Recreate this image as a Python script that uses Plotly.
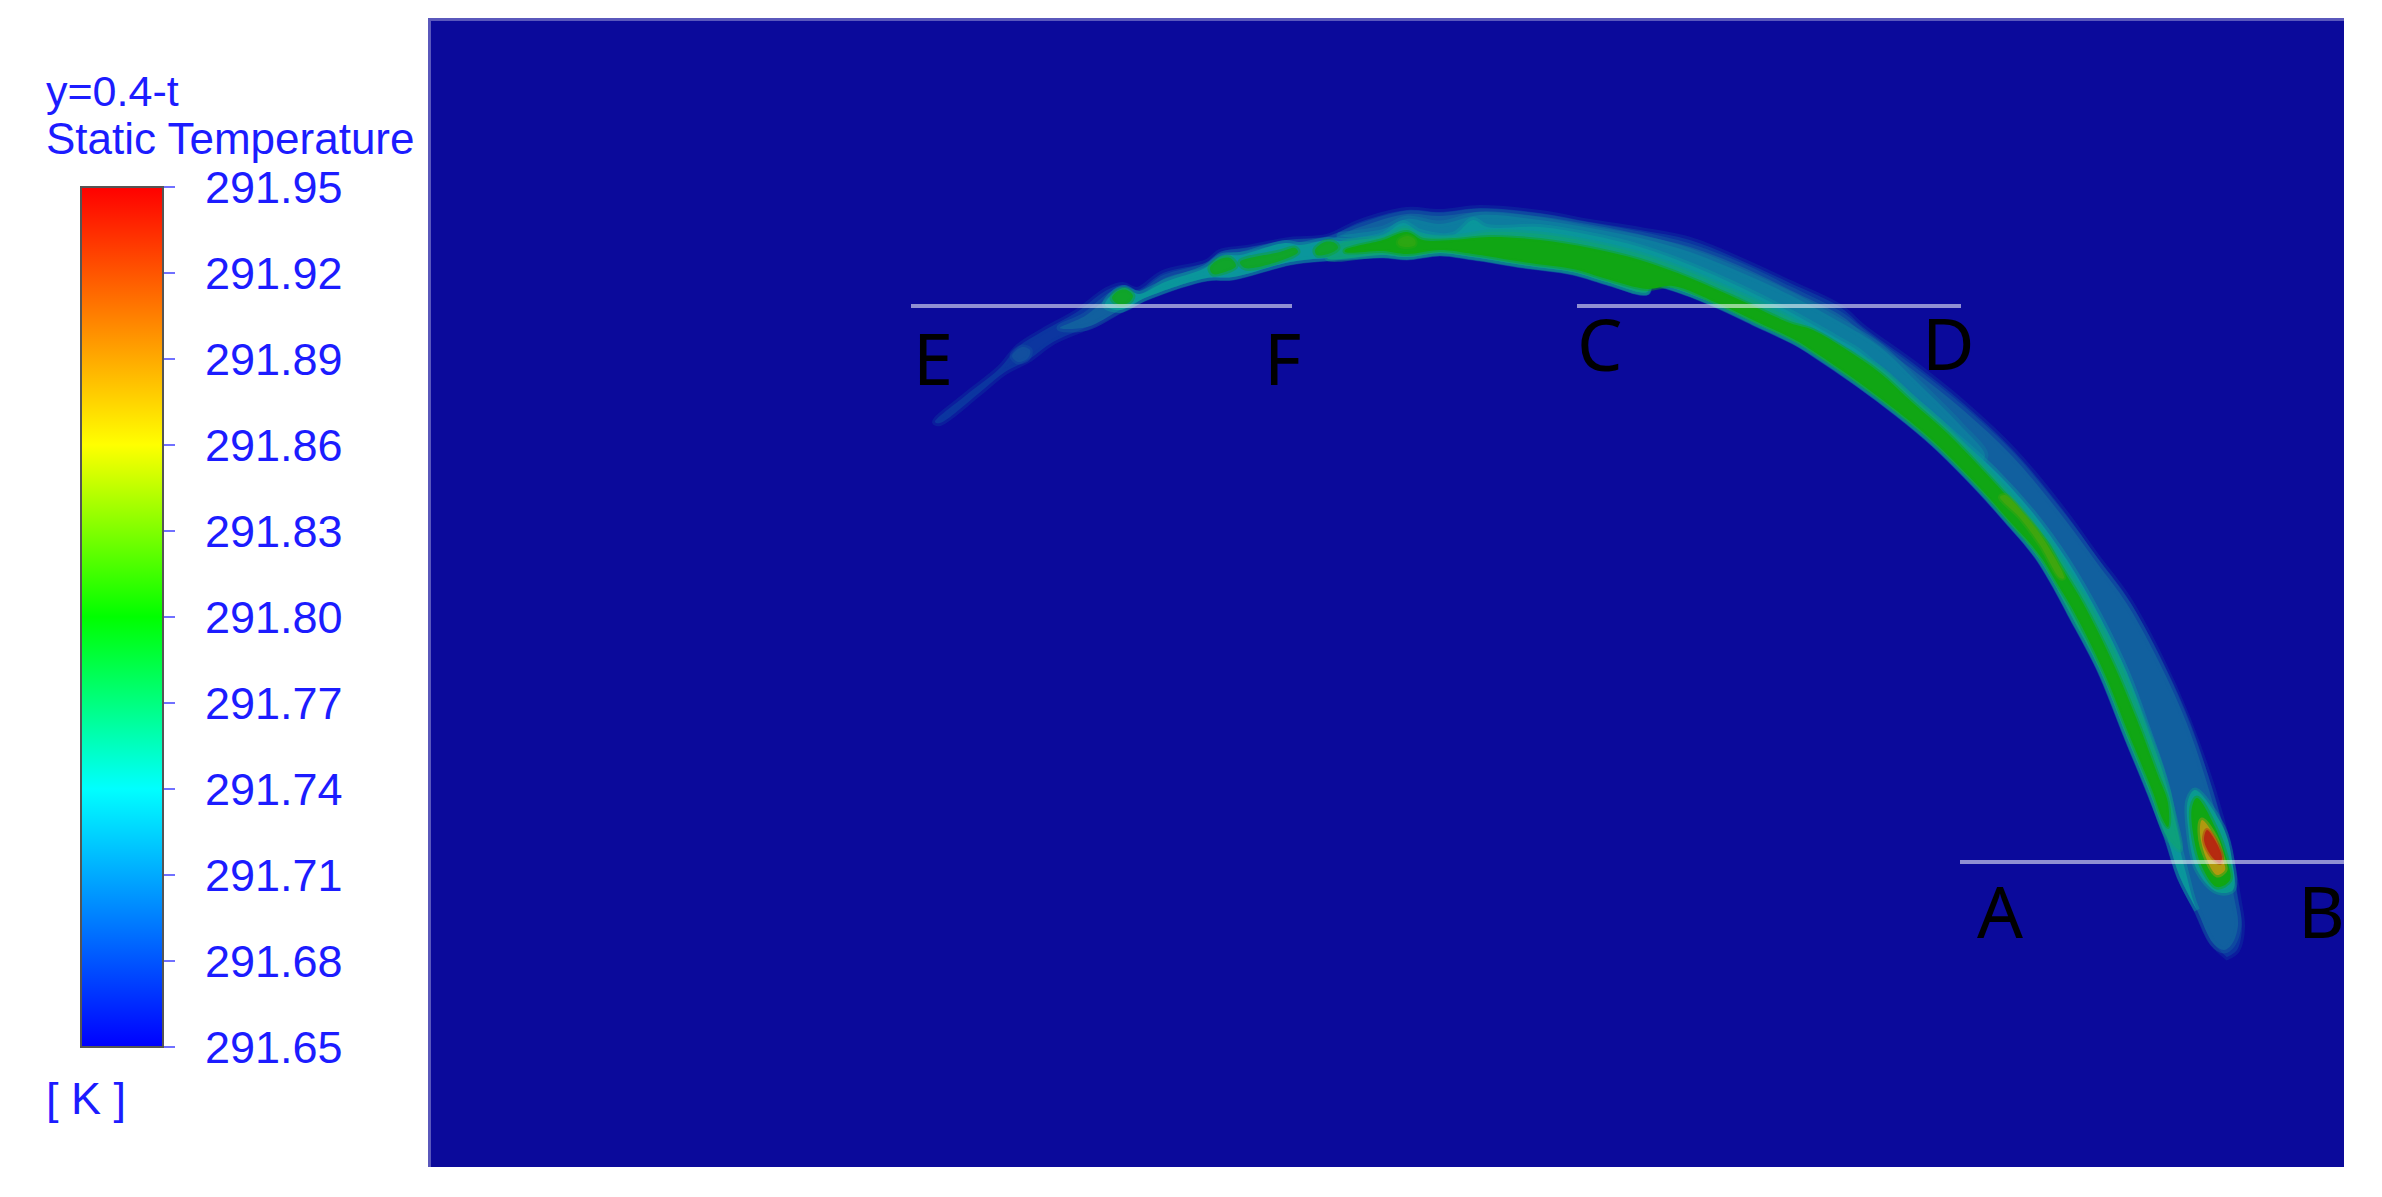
import plotly.graph_objects as go

W, H = 2382, 1197
PLOT_BG = "#0b0a9b"
TEXT = "#1c1cff"

# colour bar
T_MIN, T_MAX = 291.65, 291.95
TICK_VALUES = [291.65, 291.68, 291.71, 291.74, 291.77, 291.80, 291.83, 291.86, 291.89, 291.92, 291.95]
TICK_LABELS = ["291.65", "291.68", "291.71", "291.74", "291.77", "291.80", "291.83", "291.86", "291.89", "291.92", "291.95"]
SCALE = [[0, "#0000ff"], [0.3, "#00ffff"], [0.5, "#00ff00"], [0.7, "#ffff00"], [1, "#ff0000"]]

# contour outlines of the plume (horizontal and vertical plane position)
HAZE_OUT_UP = [(935,422),(965,396),(1000,368),(1018,347),(1043,331),(1077,312),(1107,290),(1123,285),(1137,290),(1163,273),(1207,262),(1220,252),(1247,248),(1290,240),(1327,237),(1360,222),(1407,210),(1440,212),(1480,208),(1540,213),(1590,222),(1640,230),(1690,240),(1740,260),(1790,283),(1840,307),(1863,327),(1913,363),(1963,403),(2013,450),(2063,510),(2097,557),(2127,597),(2160,657),(2187,717),(2213,790),(2230,853),(2238,897),(2242,927),(2237,950),(2227,957)]
LOWER = [(940,423),(978,394),(1005,372),(1028,360),(1053,342),(1087,327),(1120,310),(1147,297),(1207,278),(1233,277),(1290,262),(1327,258),(1383,255),(1407,257),(1440,253),(1473,257),(1523,265),(1573,272),(1607,282),(1647,292),(1650,283),(1673,288),(1717,305),(1753,322),(1797,343),(1813,353),(1857,383),(1897,413),(1933,443),(1980,490),(2013,527),(2027,543),(2040,560),(2055,585),(2070,613),(2100,670),(2127,737),(2150,793),(2167,837),(2180,877),(2197,910),(2213,943),(2227,957)]
HAZE_IN_UP = [(1060,328),(1085,316),(1110,296),(1123,290),(1140,294),(1165,278),(1207,266),(1222,255),(1247,251),(1290,243),(1327,240),(1360,227),(1407,214),(1440,216),(1480,212),(1540,217),(1590,226),(1640,235),(1690,247),(1740,266),(1790,290),(1840,315),(1863,333),(1913,370),(1963,410),(2013,457),(2063,517),(2097,563),(2127,604),(2160,664),(2187,724),(2209,790),(2226,853),(2234,897),(2238,925),(2232,944),(2224,950)]
HAZE_BRIGHT_UP = [(1340,236),(1383,229),(1407,219),(1440,224),(1480,215),(1540,220),(1590,228),(1640,238),(1690,252),(1740,272),(1790,295),(1840,322),(1880,347),(1920,385),(1960,425),(1985,455)]
TAIL_BLOB = [(1012,356),(1022,347),(1030,350),(1028,358),(1018,362)]
TEAL_UP = [(1105,305),(1115,292),(1125,288),(1135,293),(1140,294),(1165,282),(1205,268),(1222,256),(1240,255),(1285,243),(1300,245),(1327,240),(1345,241),(1383,235),(1403,223),(1420,232),(1453,235),(1473,220),(1487,227),(1540,227),(1590,235),(1640,247),(1690,265),(1740,287),(1790,312),(1840,340),(1857,350),(1907,393),(1953,433),(1997,473),(2033,513),(2067,560),(2100,617),(2127,673),(2147,727),(2167,787),(2177,837),(2187,877),(2193,900),(2197,910)]
MID_UP = [(1340,244),(1383,237),(1405,228),(1423,236),(1453,237),(1490,232),(1540,234),(1590,242),(1640,254),(1690,272),(1740,294),(1790,318),(1840,347),(1880,368),(1913,398),(1947,428),(1980,462),(2013,498),(2047,538),(2073,578),(2090,605),(2120,663),(2142,717),(2162,770),(2174,815),(2180,850)]
GREEN_UP = [(1345,250),(1383,240),(1407,232),(1423,240),(1453,240),(1490,237),(1540,240),(1590,248),(1640,260),(1690,278),(1740,300),(1790,323),(1813,330),(1847,350),(1880,373),(1913,403),(1947,433),(1980,467),(2013,503),(2047,543),(2057,560),(2083,603),(2113,663),(2137,720),(2157,773),(2168,803),(2168,827)]
GREEN_LOW = [(1345,252),(1383,251),(1407,254),(1440,250),(1473,254),(1523,262),(1573,269),(1607,279),(1647,289),(1673,286),(1717,303),(1753,320),(1797,341),(1813,351),(1857,381),(1897,411),(1933,441),(1980,488),(2013,525),(2028,541),(2043,560),(2058,585),(2073,610),(2103,670),(2130,737),(2152,790),(2163,820)]
OLIVE_ARC = [(2000,497),(2020,518),(2040,545),(2060,578),(2064,578),(2046,543),(2026,516),(2005,495)]
BLOBS_GREEN = [
    [(1112,298),(1118,291),(1127,290),(1133,296),(1128,303),(1118,304)],
    [(1210,268),(1218,260),(1230,258),(1236,266),(1225,272),(1213,274)],
    [(1240,262),(1280,252),(1295,248),(1298,252),(1288,258),(1245,268)],
    [(1315,250),(1325,242),(1335,243),(1338,248),(1328,254),(1317,255)],
]
BLOB_OLIVE = [(1398,241),(1407,236),(1415,240),(1415,245),(1407,247),(1399,245)]
HOT_TEAL = [(2195,790),(2223,827),(2232,860),(2233,890),(2217,892),(2197,870),(2188,827),(2188,800)]
HOT_GREEN = [(2197,798),(2215,827),(2227,860),(2230,880),(2217,887),(2202,867),(2193,833),(2192,807)]
HOT_ORANGE = [(2202,820),(2215,837),(2223,860),(2225,870),(2217,875),(2207,860),(2200,833)]
HOT_RED = [(2207,830),(2215,840),(2222,857),(2220,863),(2212,857),(2204,840)]

# section lines and their letters
SECTIONS = [((911,1292),306), ((1577,1961),306), ((1960,2344),862)]
LETTERS = [("E",933,357),("F",1282,357),("C",1600,343),("D",1948,342),("A",2000,910),("B",2321,910)]


def closed(up, low=None):
    pts = list(up) + (list(reversed(low)) if low else [])
    pts = pts + [pts[0]]
    return [p[0] for p in pts], [p[1] for p in pts]


def soft(colour, alpha=0.45):
    r, g, b = int(colour[1:3], 16), int(colour[3:5], 16), int(colour[5:7], 16)
    return f"rgba({r},{g},{b},{alpha})"


fig = go.Figure()


def band(pts, colour, edge=3):
    x, y = pts
    fig.add_trace(go.Scatter(x=x, y=y, mode="lines", fill="toself", fillcolor=colour,
                             line=dict(color=soft(colour), width=edge, shape="spline", smoothing=1.0),
                             hoverinfo="skip", showlegend=False))


band(closed(HAZE_OUT_UP, LOWER), "#0c36a0", 6)
band(closed(TAIL_BLOB), "#124f9f", 5)
band(closed(HAZE_IN_UP, LOWER[5:-1]), "#11609f", 7)
band(closed(HAZE_BRIGHT_UP, MID_UP[1:17]), "#0d7c9f", 7)
band(closed(TEAL_UP, LOWER[6:-2]), "#0a969c", 6)
band(closed(MID_UP, LOWER[11:-4]), "#0da07c", 5)
band(closed(GREEN_UP, GREEN_LOW), "#10a614", 4)
for blob in BLOBS_GREEN:
    band(closed(blob), "#10a52a", 5)
band(closed(BLOB_OLIVE), "#2ca712", 4)
band(closed(OLIVE_ARC), "#3fa60f", 4)
band(closed(HOT_TEAL), "#0a9a90", 5)
band(closed(HOT_GREEN), "#10a614", 5)
band(closed(HOT_ORANGE), "#b09a10", 5)
band(closed(HOT_RED), "#b52a10", 4)

for (xs, y) in SECTIONS:
    fig.add_trace(go.Scatter(x=list(xs), y=[y, y], mode="lines",
                             line=dict(color="rgba(255,255,255,0.55)", width=4),
                             hoverinfo="skip", showlegend=False))

# invisible carrier of the colour bar
PAD = "\u00a0\u2009"
fig.add_trace(go.Scatter(x=[2213, 2213], y=[845, 845], mode="markers", hoverinfo="skip", showlegend=False,
                         marker=dict(size=1, opacity=0, color=[T_MIN, T_MAX], cmin=T_MIN, cmax=T_MAX,
                                     colorscale=SCALE, showscale=True,
                                     colorbar=dict(xref="container", yref="container", x=81 / W, y=1 - 187 / H,
                                                   xanchor="left", yanchor="top", thickness=82, thicknessmode="pixels",
                                                   len=860, lenmode="pixels", xpad=0, ypad=0,
                                                   tickmode="array", tickvals=TICK_VALUES,
                                                   ticktext=[PAD + t for t in TICK_LABELS],
                                                   ticks="outside", ticklen=11, tickwidth=2,
                                                   tickcolor="#7070ff",
                                                   tickfont=dict(family="Liberation Sans", size=45, color=TEXT),
                                                   outlinecolor="#555555", outlinewidth=2, borderwidth=0))))

for text, x, y in LETTERS:
    fig.add_annotation(x=x, y=y, xref="x", yref="y", text=text, showarrow=False,
                       font=dict(family="Noto Sans", size=72, color="#000000"), xanchor="center", yanchor="middle")


def label(text, x, y, size):
    fig.add_annotation(x=x / W, y=1 - y / H, xref="paper", yref="paper", text=text, showarrow=False, xanchor="left",
                       yanchor="middle", font=dict(family="Liberation Sans", size=size, color=TEXT))


label("y=0.4-t", 44, 91, 43)
label("Static Temperature", 44, 138, 44)
label("[ K ]", 44, 1098, 45)

fig.update_layout(width=W, height=H, margin=dict(l=0, r=0, t=0, b=0, autoexpand=False), paper_bgcolor="#ffffff",
                  plot_bgcolor=PLOT_BG, showlegend=False, hovermode=False)
fig.update_xaxes(domain=[431 / W, 2344 / W], range=[431, 2344], side="top", showline=True, linewidth=3, linecolor="#5a58bc",
                 showticklabels=False, ticks="", showgrid=False, zeroline=False)
fig.update_yaxes(domain=[1 - 1167 / H, 1 - 21 / H], range=[1167, 21], showline=True, linewidth=3, linecolor="#5a58bc",
                 showticklabels=False, ticks="", showgrid=False, zeroline=False)

fig.write_html("out.html", config={"displayModeBar": False}, post_script="document.body.style.margin='0';")
